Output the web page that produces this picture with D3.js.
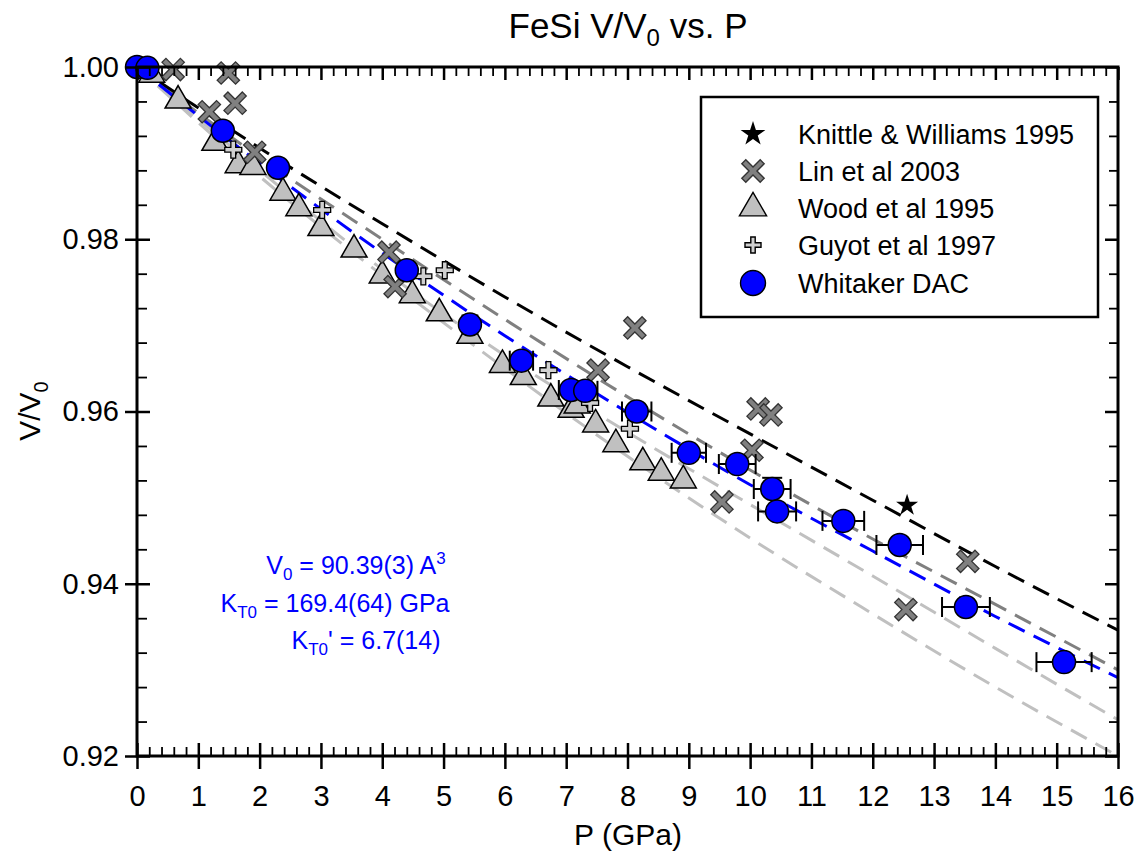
<!DOCTYPE html>
<html>
<head>
<style>
    body{ margin:0; background:#fff; }
    svg{ display:block; font-family:"Liberation Sans", Arial, sans-serif; }
</style>
<script src="https://d3js.org/d3.v7.min.js"></script>
</head>
<body>
<script>
// ---- data ----
const knittleP = [12.56];
const knittleV = [0.9491];

const linP = [0.59, 1.18, 1.49, 1.60, 1.92, 4.11, 4.21, 7.52, 8.12, 9.54, 10.03, 10.13, 10.34, 12.54, 13.55];
const linV = [0.9997, 0.9948, 0.9993, 0.9958, 0.9901, 0.9785, 0.9745, 0.9648, 0.9697, 0.9495, 0.9555, 0.9603, 0.9596, 0.9370, 0.9426];

const woodP = [0.24, 0.67, 1.27, 1.65, 1.89, 2.38, 2.64, 3.00, 3.54, 4.00, 4.49, 4.93, 5.43, 5.96, 6.30, 6.75, 7.08, 7.18, 7.48, 7.81, 8.25, 8.55, 8.91];
const woodV = [0.9991, 0.9961, 0.9912, 0.9886, 0.9884, 0.9854, 0.9836, 0.9813, 0.9788, 0.9758, 0.9735, 0.9714, 0.9688, 0.9654, 0.9640, 0.9615, 0.9602, 0.9607, 0.9585, 0.9562, 0.9541, 0.9529, 0.9520];

const guyotP = [1.57, 3.02, 4.67, 5.02, 6.71, 7.39, 8.04];
const guyotV = [0.9904, 0.9834, 0.9757, 0.9764, 0.9648, 0.9610, 0.9580];

const dacP = [0, 0.17, 1.40, 2.30, 4.40, 5.43, 6.27, 7.08, 7.31, 8.15, 9.00, 9.79, 10.36, 10.44, 11.52, 12.44, 13.52, 15.12];
const dacV = [1.0000, 0.9999, 0.9926, 0.9883, 0.9764, 0.9701, 0.9659, 0.9625, 0.9624, 0.9600, 0.9552, 0.9539, 0.9510, 0.9484, 0.9473, 0.9445, 0.9373, 0.9309];
const dacPerr = [0, 0, 0, 0, 0.1, 0.12, 0.19, 0.2, 0.2, 0.24, 0.28, 0.3, 0.3, 0.31, 0.34, 0.38, 0.39, 0.45];
const dacVerr = [0, 0, 0, 0, 0, 0, 0, 0, 0, 0, 0, 0, 0.0013, 0, 0, 0, 0, 0];

// fitted EOS curves, read at every 2 GPa
const fitP = [0, 2, 4, 6, 8, 10, 12, 14, 16];
const fitBlack = [1.0, 0.9906, 0.9818, 0.9733, 0.9652, 0.9574, 0.9497, 0.9420, 0.9346];
const fitGray = [1.0, 0.9895, 0.9800, 0.9707, 0.9617, 0.9532, 0.9452, 0.9376, 0.9300];
const fitBlue = [1.0, 0.9888, 0.9784, 0.9688, 0.9599, 0.9515, 0.9438, 0.9362, 0.9291];
const fitLight1 = [1.0, 0.9880, 0.9765, 0.9665, 0.9576, 0.9492, 0.9409, 0.9325, 0.9242];
const fitLight2 = [1.0, 0.9873, 0.9758, 0.9650, 0.9548, 0.9453, 0.9365, 0.9280, 0.9200];

const xTicks = [0,1,2,3,4,5,6,7,8,9,10,11,12,13,14,15,16];
const yTicks = [0.92, 0.94, 0.96, 0.98, 1.00];
const legendNames = ["Knittle & Williams 1995", "Lin et al 2003", "Wood et al 1995", "Guyot et al 1997", "Whitaker DAC"];

// ---- layout ----
const w = 1145, h = 853;
const pl = 137, pr = 1118, pt = 67, pb = 756;

const svg = d3.select("body").append("svg")
    .attr("width", w)
    .attr("height", h);

const x = d3.scaleLinear().domain([0, 16]).range([pl, pr]);
const y = d3.scaleLinear().domain([0.92, 1.0]).range([pb, pt]);

const xMinor = d3.range(0, 16.001, 0.2).filter(d => Math.abs(d - Math.round(d)) > 0.01);
const yMinor = d3.range(0.92, 1.0001, 0.004).filter(d => Math.abs(d * 50 - Math.round(d * 50)) > 0.01);

svg.append("clipPath").attr("id", "plotclip")
    .append("rect").attr("x", pl).attr("y", pt).attr("width", pr - pl).attr("height", pb - pt);

// ---- fit lines ----
const fitLine = d3.line().x(d => x(d[0])).y(d => y(d[1])).curve(d3.curveMonotoneX);
const fits = [
    {v: fitLight2, c: "#c0c0c0"},
    {v: fitLight1, c: "#c0c0c0"},
    {v: fitGray, c: "#808080"},
    {v: fitBlack, c: "#000000"},
    {v: fitBlue, c: "#0000ff"}
];
svg.append("g").attr("clip-path", "url(#plotclip)")
    .selectAll("path")
    .data(fits)
    .enter()
    .append("path")
    .attr("d", d => fitLine(fitP.map((p, i) => [p, d.v[i]])))
    .attr("fill", "none")
    .attr("stroke", d => d.c)
    .attr("stroke-width", 3)
    .attr("stroke-dasharray", "18,10");

// ---- symbol paths ----
function crossPath(L, t, rot) {
    const pts = [[-t,-L],[t,-L],[t,-t],[L,-t],[L,t],[t,t],[t,L],[-t,L],[-t,t],[-L,t],[-L,-t],[-t,-t]];
    const c = Math.cos(rot), s = Math.sin(rot);
    return "M" + pts.map(p => [(p[0]*c - p[1]*s).toFixed(2), (p[0]*s + p[1]*c).toFixed(2)].join(",")).join("L") + "Z";
}
const xMark = crossPath(13, 2.8, Math.PI / 4);
const plusMark = crossPath(8.5, 2.4, 0);
const triMark = d3.symbol(d3.symbolTriangle, 292)();
const starMark = d3.symbol(d3.symbolStar, 150)();

function zipPV(P, V) { return P.map((p, i) => ({p: p, v: V[i]})); }

// ---- Wood triangles ----
svg.append("g").selectAll("path")
    .data(zipPV(woodP, woodV))
    .enter().append("path")
    .attr("d", triMark)
    .attr("transform", d => `translate(${x(d.p)},${y(d.v)})`)
    .attr("fill", "#c0c0c0")
    .attr("stroke", "#000")
    .attr("stroke-width", 1.5);

// ---- Guyot plus ----
svg.append("g").selectAll("path")
    .data(zipPV(guyotP, guyotV))
    .enter().append("path")
    .attr("d", plusMark)
    .attr("transform", d => `translate(${x(d.p)},${y(d.v)})`)
    .attr("fill", "#d0d0d0")
    .attr("stroke", "#000")
    .attr("stroke-width", 1.3);

// ---- Lin crosses ----
svg.append("g").selectAll("path")
    .data(zipPV(linP, linV))
    .enter().append("path")
    .attr("d", xMark)
    .attr("transform", d => `translate(${x(d.p)},${y(d.v)})`)
    .attr("fill", "#808080")
    .attr("stroke", "#333")
    .attr("stroke-width", 1.3);

// ---- Knittle star ----
svg.append("g").selectAll("path")
    .data(zipPV(knittleP, knittleV))
    .enter().append("path")
    .attr("d", starMark)
    .attr("transform", d => `translate(${x(d.p)},${y(d.v)})`)
    .attr("fill", "#000");

// ---- Whitaker DAC with error bars ----
const dac = dacP.map((p, i) => ({p: p, v: dacV[i], e: dacPerr[i], ev: dacVerr[i]}));
const eb = svg.append("g").attr("stroke", "#000").attr("stroke-width", 2);
dac.filter(d => d.e > 0).forEach(d => {
    eb.append("line").attr("x1", x(d.p - d.e)).attr("x2", x(d.p + d.e)).attr("y1", y(d.v)).attr("y2", y(d.v));
    eb.append("line").attr("x1", x(d.p - d.e)).attr("x2", x(d.p - d.e)).attr("y1", y(d.v) - 10).attr("y2", y(d.v) + 10);
    eb.append("line").attr("x1", x(d.p + d.e)).attr("x2", x(d.p + d.e)).attr("y1", y(d.v) - 10).attr("y2", y(d.v) + 10);
});
dac.filter(d => d.ev > 0).forEach(d => {
    eb.append("line").attr("x1", x(d.p)).attr("x2", x(d.p)).attr("y1", y(d.v + d.ev)).attr("y2", y(d.v));
    eb.append("line").attr("x1", x(d.p) - 10).attr("x2", x(d.p) + 10).attr("y1", y(d.v + d.ev)).attr("y2", y(d.v + d.ev));
});
svg.append("g").selectAll("circle")
    .data(dac)
    .enter().append("circle")
    .attr("cx", d => x(d.p))
    .attr("cy", d => y(d.v))
    .attr("r", 11.5)
    .attr("fill", "#0000ff")
    .attr("stroke", "#000")
    .attr("stroke-width", 1.5);

// ---- axes ----
const tickFont = 29;
svg.append("g")
    .attr("transform", `translate(0,${pb})`)
    .call(d3.axisBottom(x).tickValues(xTicks).tickSize(13).tickPadding(16).tickFormat(d3.format("d")))
    .call(g => g.select(".domain").remove())
    .call(g => g.selectAll(".tick line").attr("y1", -13).attr("stroke-width", 2.5))
    .call(g => g.selectAll(".tick text").attr("font-size", tickFont).attr("font-family", "Liberation Sans, Arial, sans-serif").attr("fill", "#000"));
svg.append("g")
    .attr("transform", `translate(0,${pb})`)
    .call(d3.axisBottom(x).tickValues(xMinor).tickSize(-9).tickFormat(""))
    .call(g => g.select(".domain").remove())
    .call(g => g.selectAll(".tick line").attr("stroke-width", 1.8));

svg.append("g")
    .attr("transform", `translate(0,${pt})`)
    .call(d3.axisTop(x).tickValues(xTicks).tickSize(-13).tickFormat(""))
    .call(g => g.select(".domain").remove())
    .call(g => g.selectAll(".tick line").attr("stroke-width", 2.5));
svg.append("g")
    .attr("transform", `translate(0,${pt})`)
    .call(d3.axisTop(x).tickValues(xMinor).tickSize(-9).tickFormat(""))
    .call(g => g.select(".domain").remove())
    .call(g => g.selectAll(".tick line").attr("stroke-width", 1.8));

svg.append("g")
    .attr("transform", `translate(${pl},0)`)
    .call(d3.axisLeft(y).tickValues(yTicks).tickSize(12).tickPadding(6).tickFormat(d3.format(".2f")))
    .call(g => g.select(".domain").remove())
    .call(g => g.selectAll(".tick line").attr("x1", 13).attr("stroke-width", 2.5))
    .call(g => g.selectAll(".tick text").attr("font-size", tickFont).attr("font-family", "Liberation Sans, Arial, sans-serif").attr("fill", "#000"));
svg.append("g")
    .attr("transform", `translate(${pl},0)`)
    .call(d3.axisLeft(y).tickValues(yMinor).tickSize(-10).tickFormat(""))
    .call(g => g.select(".domain").remove())
    .call(g => g.selectAll(".tick line").attr("stroke-width", 1.8));

svg.append("g")
    .attr("transform", `translate(${pr},0)`)
    .call(d3.axisRight(y).tickValues(yTicks).tickSize(-13).tickFormat(""))
    .call(g => g.select(".domain").remove())
    .call(g => g.selectAll(".tick line").attr("stroke-width", 2.5));
svg.append("g")
    .attr("transform", `translate(${pr},0)`)
    .call(d3.axisRight(y).tickValues(yMinor).tickSize(-9).tickFormat(""))
    .call(g => g.select(".domain").remove())
    .call(g => g.selectAll(".tick line").attr("stroke-width", 1.8));

svg.append("rect")
    .attr("x", pl).attr("y", pt)
    .attr("width", pr - pl).attr("height", pb - pt)
    .attr("fill", "none")
    .attr("stroke", "#000")
    .attr("stroke-width", 3);

// ---- titles ----
const title = svg.append("text")
    .attr("x", 628).attr("y", 38)
    .attr("text-anchor", "middle")
    .attr("font-size", 35);
title.append("tspan").text("FeSi V/V");
title.append("tspan").attr("font-size", 24).attr("dy", 8).text("0");
title.append("tspan").attr("dy", -8).text(" vs. P");

svg.append("text")
    .attr("x", 628).attr("y", 845)
    .attr("text-anchor", "middle")
    .attr("font-size", 30)
    .text("P (GPa)");

const ylab = svg.append("text")
    .attr("transform", "translate(40,411) rotate(-90)")
    .attr("text-anchor", "middle")
    .attr("font-size", 30);
ylab.append("tspan").text("V/V");
ylab.append("tspan").attr("font-size", 20).attr("dy", 8).text("0");

// ---- annotation ----
const ann = svg.append("g").attr("fill", "#0000ff").attr("font-size", 25).attr("text-anchor", "middle");
const a1 = ann.append("text").attr("x", 356).attr("y", 574);
a1.append("tspan").text("V");
a1.append("tspan").attr("font-size", 17).attr("dy", 6).text("0");
a1.append("tspan").attr("dy", -6).text(" = 90.39(3) A");
a1.append("tspan").attr("font-size", 17).attr("dy", -10).text("3");
const a2 = ann.append("text").attr("x", 335).attr("y", 612);
a2.append("tspan").text("K");
a2.append("tspan").attr("font-size", 17).attr("dy", 6).text("T0");
a2.append("tspan").attr("dy", -6).text(" = 169.4(64) GPa");
const a3 = ann.append("text").attr("x", 366).attr("y", 649);
a3.append("tspan").text("K");
a3.append("tspan").attr("font-size", 17).attr("dy", 6).text("T0");
a3.append("tspan").attr("dy", -6).text("' = 6.7(14)");

// ---- legend ----
const lg = svg.append("g");
lg.append("rect")
    .attr("x", 701).attr("y", 97)
    .attr("width", 397).attr("height", 220)
    .attr("fill", "#fff")
    .attr("stroke", "#000")
    .attr("stroke-width", 2.5);
const rowY = [134, 171, 208, 245, 283];
const legendMarks = [
    {d: d3.symbol(d3.symbolStar, 190)(), fill: "#000", stroke: "none"},
    {d: xMark, fill: "#808080", stroke: "#333"},
    {d: d3.symbol(d3.symbolTriangle, 320)(), fill: "#c0c0c0", stroke: "#000"},
    {d: crossPath(8, 2.2, 0), fill: "#d0d0d0", stroke: "#000"},
    {d: d3.symbol(d3.symbolCircle, Math.PI * 12.5 * 12.5)(), fill: "#0000ff", stroke: "#000"}
];
lg.selectAll("path")
    .data(legendMarks)
    .enter().append("path")
    .attr("d", d => d.d)
    .attr("transform", (d, i) => `translate(753,${rowY[i]})`)
    .attr("fill", d => d.fill)
    .attr("stroke", d => d.stroke)
    .attr("stroke-width", 1.4);
lg.selectAll("text")
    .data(legendNames)
    .enter().append("text")
    .attr("x", 798)
    .attr("y", (d, i) => rowY[i])
    .attr("dy", "0.36em")
    .attr("font-size", 27)
    .text(d => d);
</script>
</body>
</html>
